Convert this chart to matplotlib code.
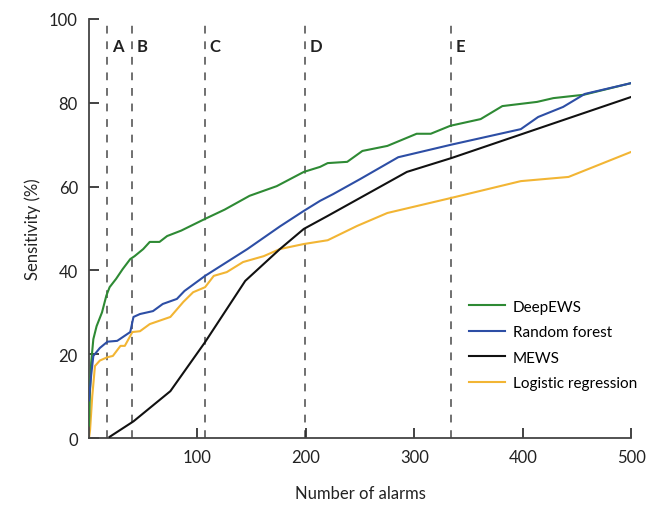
import numpy as np
import matplotlib
matplotlib.use("Agg")
import matplotlib.pyplot as plt

plt.rcParams['font.family'] = ['Lato', 'DejaVu Sans']

# DeepEWS
deep_x = [0, 1, 2, 4, 7, 12, 16, 19, 25, 31, 38, 42, 50, 56, 65, 72, 85, 107, 125, 148,
          173, 198, 213, 220, 238, 252, 275, 302, 315, 333, 361, 381, 413, 428, 456, 500]
deep_y = [3, 12, 18, 23.6, 26.7, 30, 34, 36, 38, 40.3, 42.7, 43.4, 45.1, 46.8, 46.8, 48.2, 49.5, 52.3, 54.5, 57.8,
          60.1, 63.5, 64.7, 65.6, 65.9, 68.5, 69.7, 72.6, 72.6, 74.5, 76.1, 79.2, 80.2, 81.1, 81.9, 84.7]

# Random forest
rf_x = [0, 1, 2, 4, 10, 17, 26, 38, 41, 47, 59, 68, 81, 88, 107, 146, 176, 198, 213, 225,
        250, 285, 334, 398, 414, 437, 457, 500]
rf_y = [9, 12, 15, 19.6, 21.5, 23, 23.2, 25.3, 28.9, 29.6, 30.3, 32, 33.2, 35.1, 38.7, 45.1, 50.5, 54.2, 56.6, 58.2,
        61.8, 67, 70, 73.7, 76.6, 79, 82.1, 84.7]

# MEWS
mews_x = [19, 41, 75, 107, 144, 176, 198, 220, 293, 334, 500]
mews_y = [0.3, 4, 11.2, 22.9, 37.5, 45.1, 49.9, 53, 63.5, 66.8, 81.4]

# Logistic regression
lr_x = [0, 1, 3, 5.5, 10, 17, 22, 29, 33, 40, 47, 56, 75, 87, 96, 107, 115, 127, 142, 161,
        176, 198, 220, 224, 247, 275, 334, 398, 442, 500]
lr_y = [0, 2, 10, 17.2, 18.5, 19.3, 19.6, 22, 22, 25.3, 25.5, 27.2, 28.9, 32.5, 34.8, 36, 38.7, 39.6, 42, 43.4,
        45.1, 46.3, 47.2, 47.7, 50.6, 53.7, 57.3, 61.3, 62.3, 68.3]

cut_x = [17, 40, 107, 199, 334]
cut_labels = ["A", "B", "C", "D", "E"]

fig = plt.figure(figsize=(6.52, 5.10), dpi=100)
ax = fig.add_axes([0.1365, 0.139, 0.832, 0.822])

for xv, lab in zip(cut_x, cut_labels):
    ax.axvline(xv, color="#707070", lw=1.4, ls=(0, (4, 4)), zorder=1)
    ax.text(xv + 4, 93.5, lab, fontsize=12, color="#222222", va="center", ha="left",
            fontweight="bold")

ax.plot(deep_x, deep_y, color="#2e8a34", lw=1.5, label="DeepEWS", zorder=3)
ax.plot(rf_x, rf_y, color="#2d4ea5", lw=1.5, label="Random forest", zorder=3)
ax.plot(mews_x, mews_y, color="#111111", lw=1.5, label="MEWS", zorder=3)
ax.plot(lr_x, lr_y, color="#f2b534", lw=1.5, label="Logistic regression", zorder=2)

ax.set_xlim(0, 500)
ax.set_ylim(0, 100)
ax.set_xticks([100, 200, 300, 400, 500])
ax.set_yticks([0, 20, 40, 60, 80, 100])
ax.tick_params(direction="in", length=7, width=1.2, labelsize=12, colors="#222222", pad=8)
ax.spines["top"].set_visible(False)
ax.spines["right"].set_visible(False)
for s in ["left", "bottom"]:
    ax.spines[s].set_linewidth(1.3)
    ax.spines[s].set_color("#444444")

ax.set_xlabel("Number of alarms", fontsize=12, labelpad=14, color="#222222")
ax.set_ylabel("Sensitivity (%)", fontsize=12, labelpad=6, color="#222222")

ax.legend(loc="upper left", bbox_to_anchor=(0.7, 0.33), frameon=False, fontsize=11,
          handlelength=2.4, labelspacing=0.75, handletextpad=0.5,
          borderaxespad=0, borderpad=0)

plt.savefig("out.png", dpi=100)
